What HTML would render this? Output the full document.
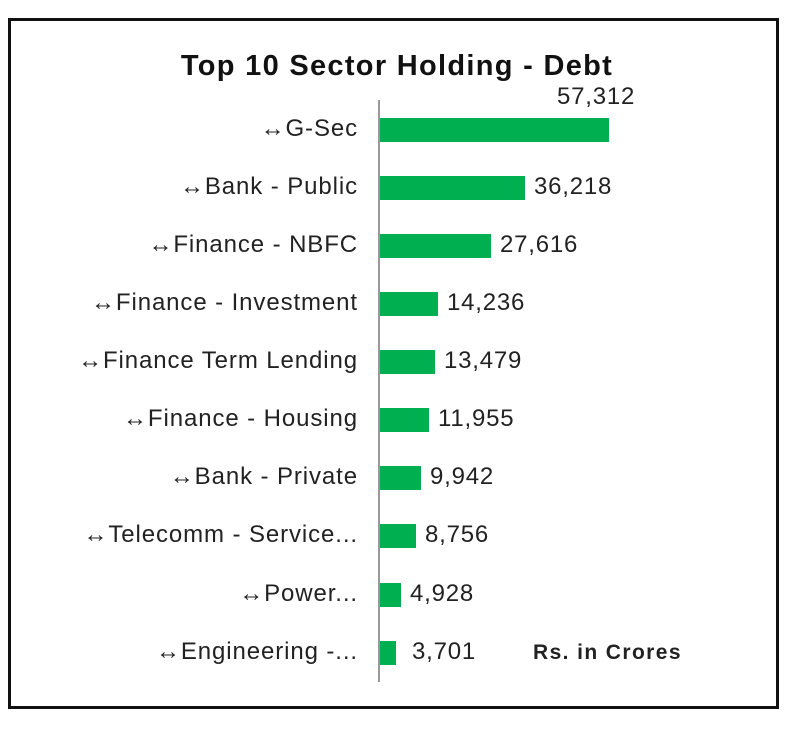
<!DOCTYPE html><html><head><style>
body{margin:0;background:#fff;width:790px;height:730px;position:relative;font-family:"Liberation Sans",sans-serif;}
.box{position:absolute;left:8px;top:18px;width:771px;height:691px;border:3px solid #111;box-sizing:border-box;}
.t{position:absolute;left:0;width:794px;top:50px;text-align:center;font-weight:bold;font-size:29px;letter-spacing:1.3px;color:#111;}
.ax{position:absolute;left:378px;top:100px;width:2px;height:582px;background:#999;}
.l{position:absolute;right:432px;font-size:24px;letter-spacing:0.9px;color:#222;white-space:nowrap;}
.b{position:absolute;left:380px;height:24px;background:#00b050;}
.v{position:absolute;font-size:24px;letter-spacing:0.8px;color:#222;}
</style></head><body>
<div class="box"></div>
<div class="t">Top 10 Sector Holding - Debt</div>
<div class="ax"></div>
<div class="l" style="top:115px">↔G-Sec</div><div class="b" style="top:118px;width:229px"></div><div class="v" style="left:557px;top:83px">57,312</div>
<div class="l" style="top:173px">↔Bank - Public</div><div class="b" style="top:176px;width:145px"></div><div class="v" style="left:534px;top:173px">36,218</div>
<div class="l" style="top:231px">↔Finance - NBFC</div><div class="b" style="top:234px;width:111px"></div><div class="v" style="left:500px;top:231px">27,616</div>
<div class="l" style="top:289px">↔Finance - Investment</div><div class="b" style="top:292px;width:58px"></div><div class="v" style="left:447px;top:289px">14,236</div>
<div class="l" style="top:347px">↔Finance Term Lending</div><div class="b" style="top:350px;width:55px"></div><div class="v" style="left:444px;top:347px">13,479</div>
<div class="l" style="top:405px">↔Finance - Housing</div><div class="b" style="top:408px;width:49px"></div><div class="v" style="left:438px;top:405px">11,955</div>
<div class="l" style="top:463px">↔Bank - Private</div><div class="b" style="top:466px;width:41px"></div><div class="v" style="left:430px;top:463px">9,942</div>
<div class="l" style="top:521px">↔Telecomm - Service...</div><div class="b" style="top:524px;width:36px"></div><div class="v" style="left:425px;top:521px">8,756</div>
<div class="l" style="top:580px">↔Power...</div><div class="b" style="top:583px;width:21px"></div><div class="v" style="left:410px;top:580px">4,928</div>
<div class="l" style="top:638px">↔Engineering -...</div><div class="b" style="top:641px;width:16px"></div><div class="v" style="left:412px;top:638px">3,701</div>
<div class="v" style="left:533px;top:641px;font-weight:bold;font-size:21px;letter-spacing:1.4px">Rs. in Crores</div>
</body></html>
